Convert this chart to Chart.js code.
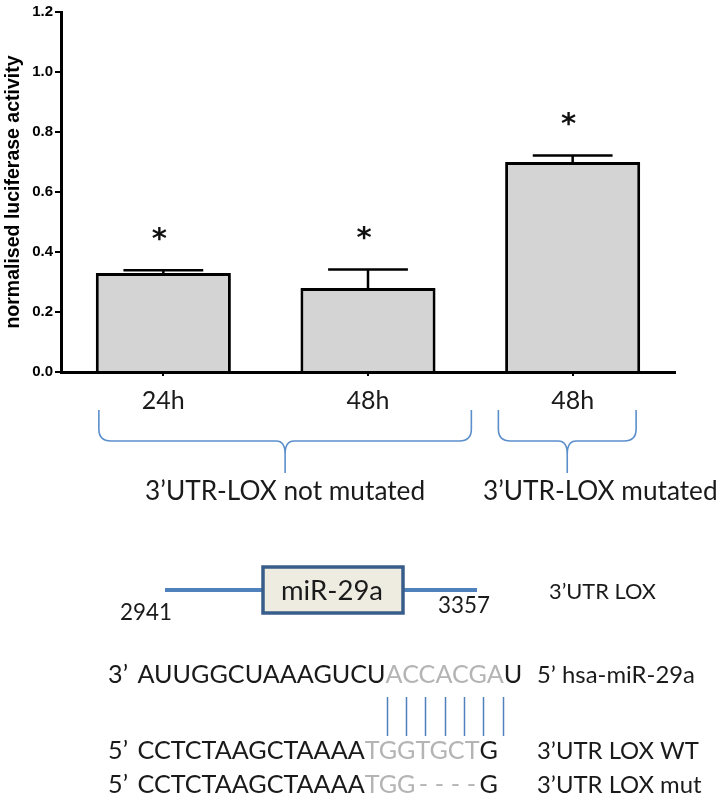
<!DOCTYPE html>
<html><head><meta charset="utf-8">
<script src="https://cdn.jsdelivr.net/npm/chart.js@4.4.1/dist/chart.umd.min.js"></script>
<style>html,body{margin:0;padding:0;background:#fff;} canvas{display:block}</style>
</head><body>
<canvas id="c" width="724" height="799"></canvas>
<script>
// ---------- data ----------
const categories = ['24h', '48h', '48h'];
const activity = [0.33, 0.28, 0.70];
const errorUp = [0.009, 0.062, 0.022];
const significance = ['*', '*', '*'];
const yTickValues = [0.0, 0.2, 0.4, 0.6, 0.8, 1.0, 1.2];
const yTitle = 'normalised luciferase activity';
const groupLabels = ['3\u2019UTR-LOX not mutated', '3\u2019UTR-LOX mutated'];
const groupFirst = [0, 2];
const groupLast = [1, 2];
const constructLabel = 'miR-29a';
const constructStart = '2941';
const constructEnd = '3357';
const constructName = '3\u2019UTR LOX';
const mirSeq = ['AUUGGCUAAAGUCU', 'ACCACGA', 'U'];
const wtSeq = ['CCTCTAAGCTAAAA', 'TGGTGCT', 'G'];
const mutSeq = ['CCTCTAAGCTAAAA', 'TGG', 'G'];
const seqEnds = ['3\u2019', '5\u2019', '5\u2019'];
const seqNames = ['5\u2019 hsa-miR-29a', '3\u2019UTR LOX WT', '3\u2019UTR LOX mut'];

// ---------- styling / layout ----------
const TXT = '#1a1a1a';
const GRAY = '#b4b4b4';
const BLUE = '#4F81BD';
const BRACE = '#5B8FCB';
const SANS = 'Lato';
const bracketInsets = [[0.315, 0.505], [0.363, 0.31]];
const groupLabelLeft = [null, 483];

function fitSize(ctx, text, family, weight, targetW) {
  ctx.font = weight + ' 100px ' + family;
  return 100 * targetW / ctx.measureText(text).width;
}
function setFont(ctx, size, family, weight) {
  ctx.font = (weight || '') + ' ' + size.toFixed(2) + 'px ' + family;
}

const annot = {
  id: 'annot',
  afterDatasetsDraw(chart) {
    const { ctx, scales: { x, y } } = chart;
    const cw = x.getPixelForValue(1) - x.getPixelForValue(0);
    ctx.save();
    activity.forEach((v, i) => {
      const cx = x.getPixelForValue(i);
      const yTop = y.getPixelForValue(v);
      const yErr = y.getPixelForValue(v + errorUp[i]);
      const capW = 0.39 * cw;
      ctx.strokeStyle = '#000';
      ctx.lineWidth = 2.5;
      ctx.beginPath();
      ctx.moveTo(cx, yTop); ctx.lineTo(cx, yErr);
      ctx.moveTo(cx - capW / 2, yErr); ctx.lineTo(cx + capW / 2, yErr);
      ctx.stroke();
      ctx.fillStyle = '#111';
      ctx.font = 'bold 29px "DejaVu Sans"';
      ctx.textAlign = 'center';
      ctx.textBaseline = 'alphabetic';
      ctx.fillText(significance[i], cx - 4, yErr - 38 + 0.54 * 29);
    });
    ctx.restore();
  },
  afterDraw(chart) {
    const { ctx, scales: { x } } = chart;
    const cw = x.getPixelForValue(1) - x.getPixelForValue(0);
    ctx.save();
    // ---- brackets ----
    const y0 = 410, y1 = 441, y2 = 473;
    const gSize = fitSize(ctx, groupLabels[0], SANS, '', 280);
    groupLabels.forEach((lab, g) => {
      const L = x.getPixelForValue(groupFirst[g]) - bracketInsets[g][0] * cw;
      const R = x.getPixelForValue(groupLast[g]) + bracketInsets[g][1] * cw;
      const M = (L + R) / 2;
      ctx.strokeStyle = BRACE;
      ctx.lineWidth = 1.6;
      ctx.beginPath();
      ctx.moveTo(L, y0);
      ctx.lineTo(L, y1 - 12);
      ctx.quadraticCurveTo(L, y1, L + 12, y1);
      ctx.lineTo(M - 9, y1);
      ctx.quadraticCurveTo(M, y1, M, y1 + 13);
      ctx.lineTo(M, y2);
      ctx.moveTo(M, y1 + 13);
      ctx.quadraticCurveTo(M, y1, M + 9, y1);
      ctx.lineTo(R - 12, y1);
      ctx.quadraticCurveTo(R, y1, R, y1 - 12);
      ctx.lineTo(R, y0);
      ctx.stroke();
      setFont(ctx, gSize, SANS);
      ctx.fillStyle = TXT;
      ctx.textBaseline = 'middle';
      if (groupLabelLeft[g] === null) {
        ctx.textAlign = 'center';
        ctx.fillText(lab, M, 492);
      } else {
        ctx.textAlign = 'left';
        ctx.fillText(lab, groupLabelLeft[g], 492);
      }
    });

    // ---- construct diagram ----
    ctx.strokeStyle = BLUE;
    ctx.lineWidth = 4;
    ctx.beginPath(); ctx.moveTo(165, 590); ctx.lineTo(477, 590); ctx.stroke();
    ctx.fillStyle = '#EEECE1';
    ctx.fillRect(263, 567, 140, 46);
    ctx.strokeStyle = '#385D8A';
    ctx.lineWidth = 3.5;
    ctx.strokeRect(263, 567, 140, 46);
    ctx.fillStyle = TXT;
    ctx.textBaseline = 'middle';
    ctx.textAlign = 'center';
    setFont(ctx, fitSize(ctx, constructLabel, SANS, '', 102), SANS);
    ctx.fillText(constructLabel, 332, 591);
    const numSize = fitSize(ctx, constructStart, SANS, '', 52);
    setFont(ctx, numSize, SANS);
    ctx.fillText(constructStart, 146, 613);
    ctx.fillText(constructEnd, 464, 606);
    ctx.textAlign = 'left';
    setFont(ctx, fitSize(ctx, constructName, SANS, '', 107), SANS);
    ctx.fillText(constructName, 549, 592);

    // ---- sequences ----
    const seqSize = fitSize(ctx, mirSeq.join(''), SANS, '', 384);
    const sx = 137.5;
    const rowsY = [675, 751, 785];
    const nameSize = fitSize(ctx, seqNames[0], SANS, '', 158);
    function drawParts(parts, colors, yy) {
      let xx = sx;
      const pos = [];
      setFont(ctx, seqSize, SANS);
      parts.forEach((p, k) => {
        ctx.fillStyle = colors[k];
        ctx.fillText(p, xx, yy);
        const w = ctx.measureText(p).width;
        pos.push([xx, w]);
        xx += w;
      });
      return pos;
    }
    ctx.textAlign = 'left';
    ctx.textBaseline = 'middle';
    const p1 = drawParts(mirSeq, [TXT, GRAY, TXT], rowsY[0]);
    const p2 = drawParts(wtSeq, [TXT, GRAY, TXT], rowsY[1]);
    setFont(ctx, seqSize, SANS);
    let xx = sx;
    ctx.fillStyle = TXT; ctx.fillText(mutSeq[0], xx, rowsY[2]);
    xx += ctx.measureText(mutSeq[0]).width;
    ctx.fillStyle = GRAY; ctx.fillText(mutSeq[1], xx, rowsY[2]);
    xx += ctx.measureText(mutSeq[1]).width;
    const gX = p2[2][0];
    const nd = 4;
    const dashW = ctx.measureText('-').width;
    for (let k = 0; k < nd; k++) {
      const dx = xx + (gX - xx) * (k + 0.5) / nd - dashW / 2;
      ctx.fillText('-', dx, rowsY[2]);
    }
    ctx.fillStyle = TXT; ctx.fillText(mutSeq[2], gX, rowsY[2]);

    ctx.fillStyle = TXT;
    ctx.textAlign = 'right';
    seqEnds.forEach((s, k) => ctx.fillText(s, 128, rowsY[k]));
    ctx.textAlign = 'left';
    setFont(ctx, nameSize, SANS);
    seqNames.forEach((s, k) => ctx.fillText(s, 537, rowsY[k]));

    const gs = p1[1][0] + 1, ge = p1[1][0] + p1[1][1] - 1;
    ctx.strokeStyle = BLUE;
    ctx.lineWidth = 1.5;
    ctx.beginPath();
    for (let k = 0; k < mirSeq[1].length; k++) {
      const lx = Math.round(gs + (ge - gs) * k / (mirSeq[1].length - 1)) + 0.5;
      ctx.moveTo(lx, 697); ctx.lineTo(lx, 736);
    }
    ctx.stroke();
    ctx.restore();
  }
};

new Chart(document.getElementById('c'), {
  type: 'bar',
  data: {
    labels: categories,
    datasets: [{
      data: activity,
      backgroundColor: '#d4d4d4',
      borderColor: '#000',
      borderWidth: 3,
      borderSkipped: 'bottom',
      barPercentage: 0.66,
      categoryPercentage: 1.0
    }]
  },
  options: {
    responsive: false,
    animation: false,
    devicePixelRatio: 1,
    layout: { padding: { left: 0, top: 12, right: 49, bottom: 377 } },
    plugins: { legend: { display: false }, tooltip: { enabled: false } },
    scales: {
      x: {
        grid: { display: true, drawOnChartArea: false, drawTicks: true, tickLength: 4, offset: false, color: '#000', lineWidth: 2 },
        border: { display: true, color: '#000', width: 3 },
        ticks: { font: { family: SANS, size: 25 }, color: TXT, padding: 10 },
        afterFit(s) { s.height = 50; }
      },
      y: {
        min: 0, max: 1.2,
        afterBuildTicks(s) { s.ticks = yTickValues.map(v => ({ value: v })); },
        ticks: { callback: v => Number(v).toFixed(1), font: { family: 'Liberation Sans', weight: 'bold', size: 15 }, color: '#000', padding: 2 },
        grid: { display: true, drawOnChartArea: false, drawTicks: true, tickLength: 6, color: '#000', lineWidth: 2 },
        border: { display: true, color: '#000', width: 3 },
        title: { display: true, text: yTitle, font: { family: 'Liberation Sans', weight: 'bold', size: 19.5 }, color: '#000', padding: { top: 2, bottom: 0 } },
        afterFit(s) { s.width = 61; }
      }
    }
  },
  plugins: [annot]
});
</script>
</body></html>
